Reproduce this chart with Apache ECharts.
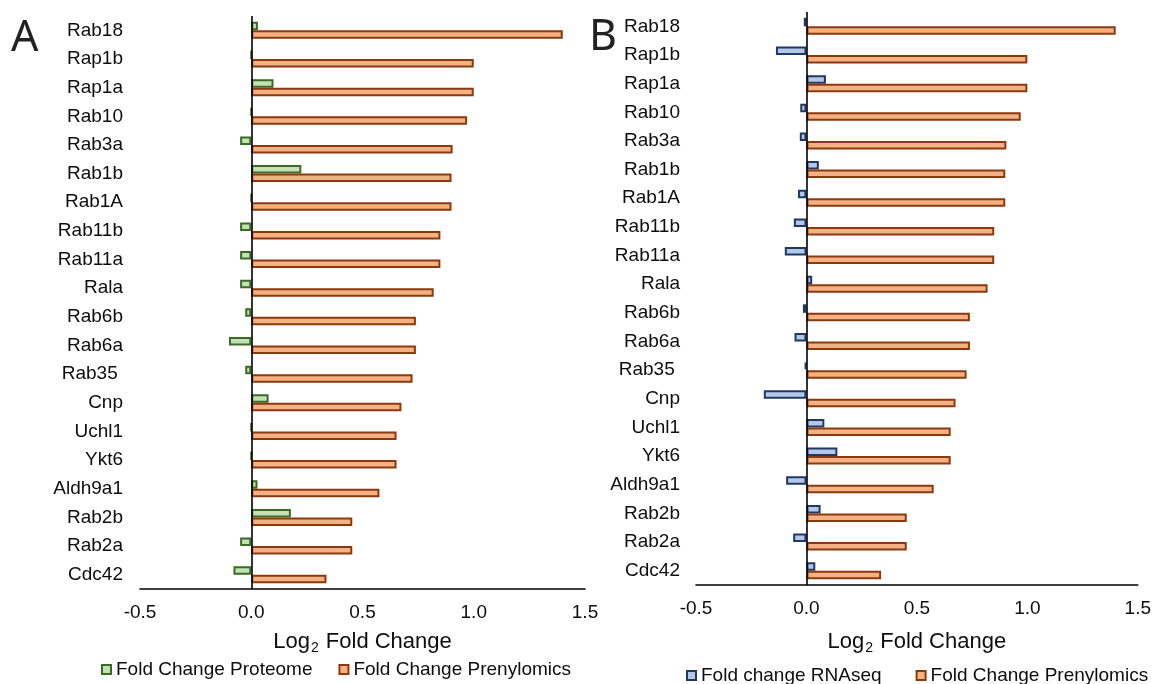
<!DOCTYPE html>
<html>
<head>
<meta charset="utf-8">
<script src="https://cdn.jsdelivr.net/npm/echarts@6/dist/echarts.min.js"></script>
<style>
html,body{margin:0;padding:0;background:#fff;}
#chart{width:1154px;height:684px;}
</style>
</head>
<body>
<div id="chart"></div>
<script>
// ---- data ----
const categories = ['Rab18','Rap1b','Rap1a','Rab10','Rab3a','Rab1b','Rab1A','Rab11b','Rab11a','Rala',
  'Rab6b','Rab6a','Rab35 ','Cnp','Uchl1','Ykt6','Aldh9a1','Rab2b','Rab2a','Cdc42'];
const prenylomics = [1.40,1.00,1.00,0.97,0.905,0.90,0.90,0.85,0.85,0.82,
  0.74,0.74,0.725,0.675,0.653,0.653,0.576,0.454,0.454,0.338];
const proteome = [0.03,0,0.10,0,-0.05,0.225,0,-0.05,-0.05,-0.05,
  -0.027,-0.10,-0.027,0.078,0,0,0.028,0.178,-0.05,-0.08];
const rnaseq = [-0.012,-0.138,0.088,-0.028,-0.03,0.056,-0.038,-0.057,-0.098,0.026,
  -0.016,-0.054,-0.008,-0.193,0.081,0.14,-0.092,0.064,-0.06,0.04];
const xTicks = {min:-0.5, max:1.5, interval:0.5};

const FONT = "'Liberation Sans', Arial, sans-serif";
const TXT = '#0d0d0d';
const green = {color:'#C5E0B4', borderColor:'#3B6B26', borderWidth:2};
const orange = {color:'#F4B183', borderColor:'#8B3A0F', borderWidth:2};
const blue = {color:'#B4C7E7', borderColor:'#1F3864', borderWidth:2};

function xAxis(gridIndex, gap){
  return {
    type:'value', gridIndex, min:xTicks.min, max:xTicks.max, interval:xTicks.interval,
    axisLine:{show:true, onZero:false, lineStyle:{color:'#000', width:1.6}},
    axisTick:{show:false}, splitLine:{show:false},
    axisLabel:{formatter:v=>v.toFixed(1), fontSize:19, color:TXT, fontFamily:FONT, margin:14},
    name:'{a|Log}{s|2}{a| Fold Change}', nameLocation:'middle', nameGap:gap,
    nameTextStyle:{rich:{
      a:{fontSize:22, fontFamily:FONT, color:TXT, lineHeight:26},
      s:{fontSize:14, fontFamily:FONT, color:TXT, lineHeight:14, verticalAlign:'bottom', padding:[0,1,0,1]}
    }}
  };
}
function yAxis(gridIndex, margin){
  return {
    type:'category', gridIndex, data:categories, inverse:true,
    axisLine:{show:false}, axisTick:{show:false}, splitLine:{show:false},
    axisLabel:{fontSize:19, color:TXT, fontFamily:FONT, margin}
  };
}
const zeroLine = {silent:true, symbol:'none', label:{show:false},
  lineStyle:{color:'#000', width:1.6, type:'solid'}, data:[{xAxis:0}]};

const option = {
  animation:false,
  backgroundColor:'#fff',
  grid:[
    {left:140, width:445, top:16, height:573},
    {left:696, width:444, top:12, height:573}
  ],
  xAxis:[xAxis(0,40), xAxis(1,44)],
  yAxis:[yAxis(0,17), yAxis(1,16)],
  legend:[
    {left:101, top:660, padding:0, itemWidth:9, itemHeight:9, itemGap:26,
     textStyle:{fontSize:19, fontFamily:FONT, color:TXT},
     data:[{name:'Fold Change Proteome', icon:'rect'},{name:'Fold Change Prenylomics', icon:'rect'}]},
    {left:686, top:666, padding:0, itemWidth:9, itemHeight:9, itemGap:34,
     textStyle:{fontSize:19, fontFamily:FONT, color:TXT},
     data:[{name:'Fold change RNAseq', icon:'rect'},{name:'Fold Change Prenylomics', icon:'rect'}]}
  ],
  graphic:[
    {type:'text', left:11, top:17, style:{text:'A', fontSize:43, fontFamily:'Noto Sans, sans-serif', fill:'#222'}},
    {type:'text', left:589, top:16, style:{text:'B', fontSize:43, fontFamily:'Noto Sans, sans-serif', fill:'#222'}}
  ],
  series:[
    {name:'Fold Change Proteome', type:'bar', xAxisIndex:0, yAxisIndex:0, data:proteome,
     barWidth:8.5, barGap:'0%', itemStyle:green, markLine:zeroLine, z:2},
    {name:'Fold Change Prenylomics', type:'bar', xAxisIndex:0, yAxisIndex:0, data:prenylomics,
     barWidth:8.5, barGap:'0%', itemStyle:orange, z:2},
    {name:'Fold change RNAseq', type:'bar', xAxisIndex:1, yAxisIndex:1, data:rnaseq,
     barWidth:8.5, barGap:'0%', itemStyle:blue, markLine:zeroLine, z:2},
    {name:'Fold Change Prenylomics', type:'bar', xAxisIndex:1, yAxisIndex:1, data:prenylomics,
     barWidth:8.5, barGap:'0%', itemStyle:orange, z:2}
  ]
};
const chart = echarts.init(document.getElementById('chart'), null, {renderer:'canvas'});
chart.setOption(option);
</script>
</body>
</html>
